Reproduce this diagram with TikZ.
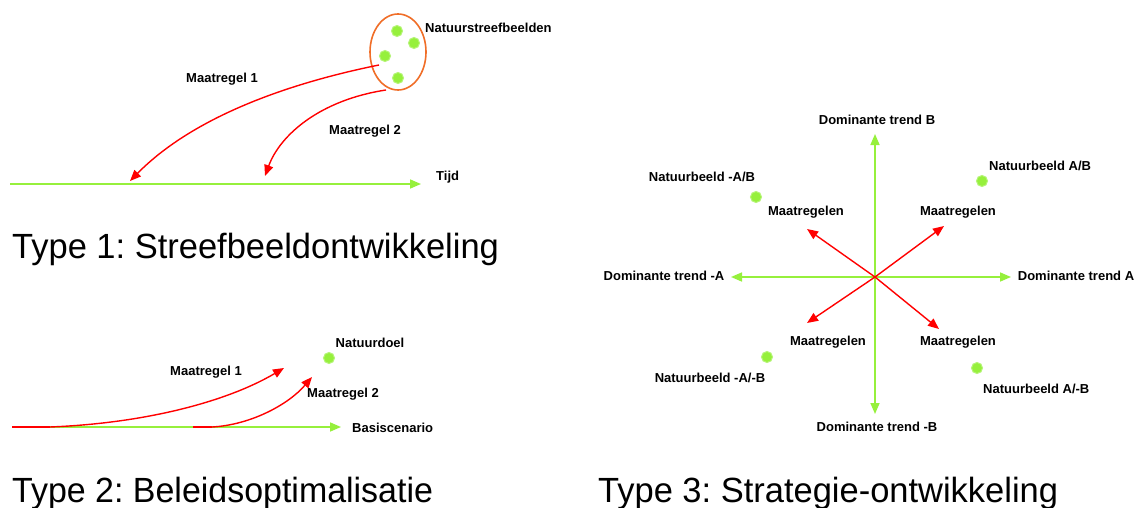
\documentclass[tikz,border=0pt]{standalone}
\usepackage{fontspec}
\setmainfont{Liberation Sans}
\frenchspacing
\usetikzlibrary{arrows.meta,shapes.geometric}
\definecolor{lime}{RGB}{150,240,60}
\definecolor{orng}{RGB}{240,110,40}
\tikzset{
  lbl/.style={font=\fontsize{13}{15}\selectfont\bfseries, inner sep=0pt},
  ttl/.style={font=\fontsize{35}{40}\selectfont, inner sep=0pt, anchor=base west},
  dot/.style={circle, fill=lime, draw=lime!70!white, line width=1pt, minimum size=11pt, inner sep=0pt},
  garrow/.style={draw=lime, line width=1.6pt, -{Triangle[length=11pt,width=9pt]}},
  rarrow/.style={draw=red, line width=1.4pt, -{Triangle[length=11pt,width=9pt]}},
  rline/.style={draw=red, line width=1.4pt},
}
\begin{document}
\begin{tikzpicture}[x=1pt,y=-1pt]
\useasboundingbox (0,0) rectangle (1137,508);
\fill[white] (0,0) rectangle (1137,508);

% ---------- Type 1 ----------
\node[draw=orng, line width=1.6pt, ellipse, minimum width=56pt, minimum height=76pt, inner sep=0pt] (ell) at (398,52) {};
\node[dot] (d1) at (397,31) {};
\node[dot] (d2) at (414,43) {};
\node[dot] (d3) at (385,56) {};
\node[dot] (d4) at (398,78) {};
\node[lbl, anchor=west] (nsb) at (425,28) {Natuurstreefbeelden};
\coordinate (t0) at (10,184);
\coordinate (t1) at (421,184);
\draw[garrow] (t0) -- (t1);
\node[lbl, anchor=west] (tijd) at (436,177) {Tijd};
\coordinate (m1s) at (379,65);
\coordinate (m1e) at (130,181);
\coordinate (m2s) at (386,90);
\coordinate (m2e) at (265,176);
\draw[rarrow] (m1s) .. controls (280,85) and (190,120) .. (m1e);
\draw[rarrow] (m2s) .. controls (320,100) and (280,135) .. (m2e);
\node[lbl] (m1l) at (222,79) {Maatregel 1};
\node[lbl] (m2l) at (365,131) {Maatregel 2};
\node[ttl, xscale=0.985] (title1) at (12,258) {Type 1: Streefbeeldontwikkeling};

% ---------- Type 2 ----------
\coordinate (b0) at (12,427);
\coordinate (b1) at (341,427);
\draw[garrow] (b0) -- (b1);
\node[lbl, anchor=west] (basis) at (352,428) {Basiscenario};
\node[dot] (nd) at (329,358) {};
\node[lbl] (ndl) at (370,343) {Natuurdoel};
\coordinate (r1m) at (50,427);
\coordinate (r1e) at (284,368);
\coordinate (r2s) at (193,427);
\coordinate (r2m) at (212,427);
\coordinate (r2e) at (312,377);
\draw[rline] (b0) -- (r1m);
\draw[rarrow] (r1m) .. controls (150,423) and (230,400) .. (r1e);
\draw[rline] (r2s) -- (r2m);
\draw[rarrow] (r2m) .. controls (250,425) and (288,405) .. (r2e);
\node[lbl] (t2m1) at (206,372) {Maatregel 1};
\node[lbl] (t2m2) at (343,394) {Maatregel 2};
\node[ttl, xscale=0.97] (title2) at (12,502) {Type 2: Beleidsoptimalisatie};

% ---------- Type 3 ----------
\coordinate (c) at (875,277);
\coordinate (up) at (875,134);
\coordinate (dn) at (875,414);
\coordinate (lf) at (731,277);
\coordinate (rt) at (1011,277);
\draw[garrow] (c) -- (up);
\draw[garrow] (c) -- (dn);
\draw[garrow] (c) -- (lf);
\draw[garrow] (c) -- (rt);
\coordinate (ul) at (807,229);
\coordinate (ur) at (944,226);
\coordinate (ll) at (807,323);
\coordinate (lr) at (939,329);
\draw[rarrow] (c) -- (ul);
\draw[rarrow] (c) -- (ur);
\draw[rarrow] (c) -- (ll);
\draw[rarrow] (c) -- (lr);
\node[lbl] (dtb) at (877,120) {Dominante trend B};
\node[lbl] (dtmb) at (877,427) {Dominante trend -B};
\node[lbl] (dtma) at (664,276) {Dominante trend -A};
\node[lbl] (dta) at (1076,276) {Dominante trend A};
\node[dot] (nab) at (982,181) {};
\node[lbl, anchor=west] (nabl) at (989,166) {Natuurbeeld A/B};
\node[dot] (nmab) at (756,197) {};
\node[lbl] (nmabl) at (702,177) {Natuurbeeld -A/B};
\node[dot] (nmamb) at (767,357) {};
\node[lbl] (nmambl) at (710,378) {Natuurbeeld -A/-B};
\node[dot] (namb) at (977,368) {};
\node[lbl, anchor=west] (nambl) at (983,389) {Natuurbeeld A/-B};
\node[lbl] (mul) at (806,212) {Maatregelen};
\node[lbl] (mur) at (958,212) {Maatregelen};
\node[lbl] (mll) at (828,342) {Maatregelen};
\node[lbl] (mlr) at (958,342) {Maatregelen};
\node[ttl, xscale=0.985] (title3) at (598,502) {Type 3: Strategie-ontwikkeling};
\end{tikzpicture}
\end{document}
